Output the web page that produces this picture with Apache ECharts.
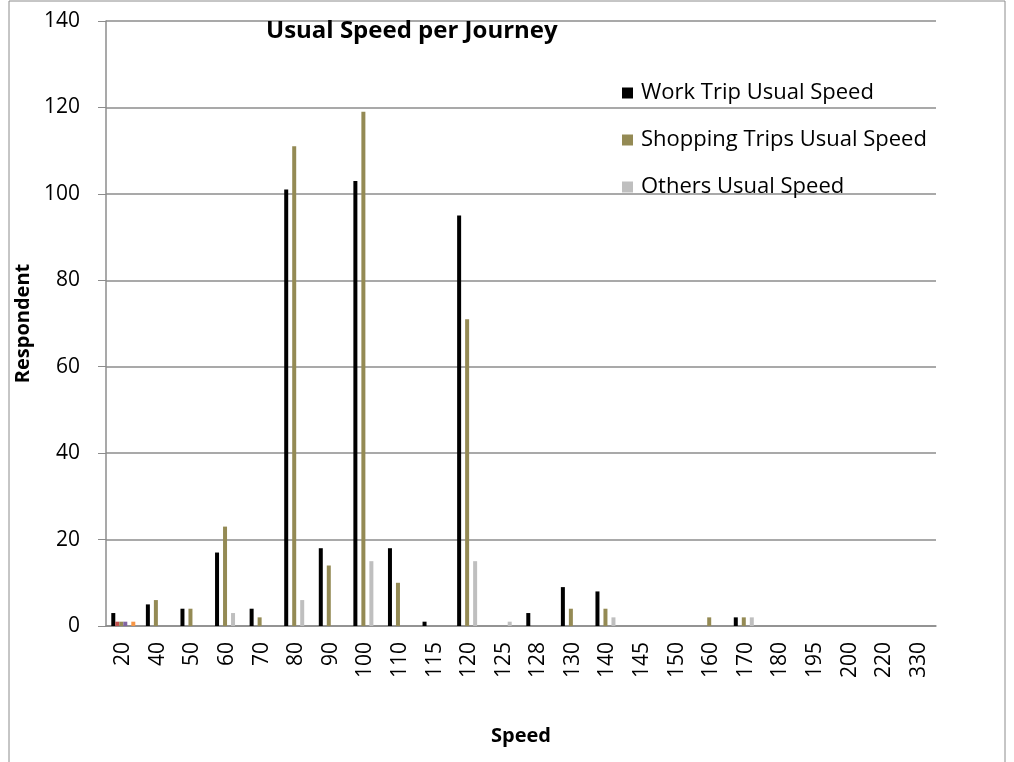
<!DOCTYPE html>
<html>
<head>
<meta charset="utf-8">
<script src="https://cdn.jsdelivr.net/npm/echarts@6/dist/echarts.min.js"></script>
<style>
  html, body { margin: 0; padding: 0; background: #fff; }
  #main { width: 1014px; height: 762px; }
</style>
</head>
<body>
<div id="main"></div>
<script>
// speed categories on the x axis
var speeds = ['20', '40', '50', '60', '70', '80', '90', '100', '110', '115', '120', '125',
              '128', '130', '140', '145', '150', '160', '170', '180', '195', '200', '220', '330'];

// respondents per speed
var workTrip  = [3, 5, 4, 17, 4, 101, 18, 103, 18, 1, 95, 0, 3, 9, 8, 0, 0, 0, 2, 0, 0, 0, 0, 0];
var shopping  = [1, 6, 4, 23, 2, 111, 14, 119, 10, 0, 71, 0, 0, 4, 4, 0, 0, 2, 2, 0, 0, 0, 0, 0];
var others    = [0, 0, 0, 3, 0, 6, 0, 15, 0, 0, 15, 1, 0, 0, 2, 0, 0, 0, 2, 0, 0, 0, 0, 0];
// stray series that only show up at 20
var extraRed    = [1, 0, 0, 0, 0, 0, 0, 0, 0, 0, 0, 0, 0, 0, 0, 0, 0, 0, 0, 0, 0, 0, 0, 0];
var extraPurple = [1, 0, 0, 0, 0, 0, 0, 0, 0, 0, 0, 0, 0, 0, 0, 0, 0, 0, 0, 0, 0, 0, 0, 0];
var extraOrange = [1, 0, 0, 0, 0, 0, 0, 0, 0, 0, 0, 0, 0, 0, 0, 0, 0, 0, 0, 0, 0, 0, 0, 0];

var yTicks = { min: 0, max: 140, step: 20 };

var font = 'Open Sans';
var myChart = echarts.init(document.getElementById('main'));

function bar(name, data, color) {
    return {
        name: name,
        type: 'bar',
        data: data,
        barWidth: 4,
        barGap: '0%',
        itemStyle: { color: color },
        emphasis: { disabled: true }
    };
}

var option = {
    animation: false,
    backgroundColor: '#fff',
    graphic: [{
        type: 'rect',
        shape: { x: 9, y: 1, width: 996, height: 770 },
        style: { fill: 'none', stroke: '#8c8c8c', lineWidth: 1 }
    }],
    title: {
        text: 'Usual Speed per Journey',
        left: 261,
        top: 14,
        textStyle: { fontFamily: font, fontWeight: 'bold', fontSize: 24, color: '#000' }
    },
    legend: {
        data: ['Work Trip Usual Speed', 'Shopping Trips Usual Speed', 'Others Usual Speed'],
        orient: 'vertical',
        left: 617,
        top: 77,
        itemGap: 25,
        itemWidth: 11,
        itemHeight: 11,
        icon: 'rect',
        textStyle: { fontFamily: font, fontSize: 22, color: '#000', padding: [0, 0, 0, 3] }
    },
    grid: { left: 106, right: 78, top: 21, bottom: 136 },
    xAxis: {
        type: 'category',
        data: speeds,
        name: 'Speed',
        nameLocation: 'middle',
        nameGap: 100,
        nameTextStyle: { fontFamily: font, fontWeight: 'bold', fontSize: 20, color: '#000' },
        axisLine: { lineStyle: { color: '#8c8c8c', width: 1.5 } },
        axisTick: { length: 7, lineStyle: { color: '#8c8c8c' } },
        axisLabel: { rotate: 90, fontFamily: font, fontSize: 21, color: '#000', margin: 16 }
    },
    yAxis: {
        type: 'value',
        min: yTicks.min,
        max: yTicks.max,
        interval: yTicks.step,
        name: 'Respondent',
        nameLocation: 'middle',
        nameGap: 66,
        nameTextStyle: { fontFamily: font, fontWeight: 'bold', fontSize: 20, color: '#000' },
        axisLine: { show: true, lineStyle: { color: '#8c8c8c', width: 1.5 } },
        axisTick: { show: true, length: 8, lineStyle: { color: '#8c8c8c' } },
        axisLabel: { fontFamily: font, fontSize: 21, color: '#000', margin: 26 },
        splitLine: { lineStyle: { color: '#8c8c8c', width: 1.5 } }
    },
    series: [
        bar('Work Trip Usual Speed', workTrip, '#000000'),
        bar('extra1', extraRed, '#c0504d'),
        bar('Shopping Trips Usual Speed', shopping, '#948a54'),
        bar('extra2', extraPurple, '#8064a2'),
        bar('Others Usual Speed', others, '#bfbfbf'),
        bar('extra3', extraOrange, '#f79646')
    ]
};

myChart.setOption(option);
</script>
</body>
</html>
